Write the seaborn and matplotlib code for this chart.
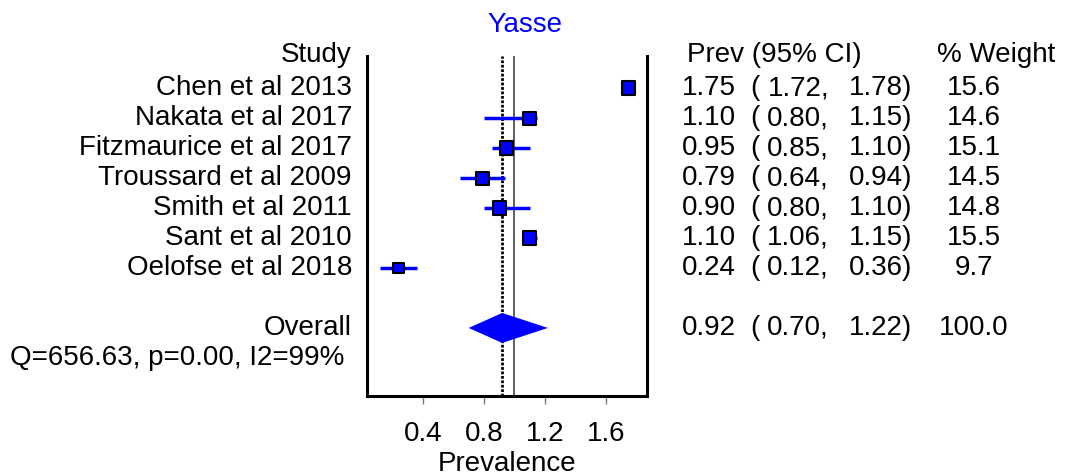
import numpy as np
import pandas as pd
import matplotlib
matplotlib.use("Agg")
import matplotlib.pyplot as plt
import matplotlib.transforms as mtransforms
import seaborn as sns

# study-level data
studies = ["Chen et al 2013", "Nakata et al 2017", "Fitzmaurice et al 2017",
           "Troussard et al 2009", "Smith et al 2011", "Sant et al 2010",
           "Oelofse et al 2018"]
prev = [1.75, 1.10, 0.95, 0.79, 0.90, 1.10, 0.24]
ci_low = [1.72, 0.80, 0.85, 0.64, 0.80, 1.06, 0.12]
ci_high = [1.78, 1.15, 1.10, 0.94, 1.10, 1.15, 0.36]
weight = [15.6, 14.6, 15.1, 14.5, 14.8, 15.5, 9.7]

# pooled estimate
overall = 0.92
overall_low = 0.70
overall_high = 1.22
overall_weight = 100.0
het_text = "Q=656.63, p=0.00, I2=99%"
x_ticks = [0.4, 0.8, 1.2, 1.6]

df = pd.DataFrame({"study": studies, "prev": prev, "low": ci_low,
                   "high": ci_high, "weight": weight})
df["row"] = np.arange(len(df))
overall_row = len(df) + 1

sns.set_style("white")
plt.rcParams["font.family"] = ["Liberation Sans", "DejaVu Sans"]
plt.rcParams["text.color"] = "black"
plt.rcParams["axes.labelcolor"] = "black"
plt.rcParams["xtick.color"] = "black"
fs = 20

fig = plt.figure(figsize=(10.67, 4.76), dpi=100)
ax = fig.add_axes([367 / 1067, 1 - 396 / 476, 280 / 1067, 340 / 476])

# reference lines
ax.axvline(1.0, color="#444444", lw=1.2, zorder=1)
ax.axvline(overall, color="black", lw=2.0, ls=(0, (1, 0.6)), zorder=1)

# confidence intervals
ax.hlines(df["row"], df["low"], df["high"], color="blue", lw=2.5, zorder=2)

# study markers sized by weight
sns.scatterplot(data=df, x="prev", y="row", size="weight", sizes=(58, 95),
                size_norm=(9.7, 15.6), marker="s", color="blue",
                edgecolor="black", linewidth=1.5, legend=False, ax=ax, zorder=3)

# pooled diamond
ax.fill([overall_low, overall, overall_high, overall],
        [overall_row, overall_row - 0.5, overall_row, overall_row + 0.5],
        color="blue", lw=0, zorder=3)

ax.set_xlim(0.033, 1.87)
ax.set_ylim(10.27, -1.07)
ax.set_yticks([])
ax.set_ylabel("")
ax.set_xticks(x_ticks)
ax.set_xticklabels([f"{t:.1f}" for t in x_ticks], fontsize=fs)
ax.tick_params(axis="x", direction="out", length=6, width=1, color="#777777",
               labelcolor="black", pad=12, bottom=True)
ax.set_xlabel("Prevalence", fontsize=fs, labelpad=3)
for side in ["left", "right", "bottom"]:
    ax.spines[side].set_color("black")
    ax.spines[side].set_linewidth(2.2)
ax.spines["top"].set_visible(False)

trans = mtransforms.blended_transform_factory(fig.transFigure, ax.transData)
def fx(px):
    return px / 1067

# left labels
ax.text(fx(352), -1.1, "Study", transform=trans, ha="right", va="center", fontsize=fs)
for _, r in df.iterrows():
    ax.text(fx(352), r["row"], r["study"], transform=trans, ha="right",
            va="center", fontsize=fs)
ax.text(fx(352), overall_row, "Overall", transform=trans, ha="right",
        va="center", fontsize=fs)
ax.text(fx(10), overall_row + 1, het_text, transform=trans, ha="left",
        va="center", fontsize=fs)

# right-hand table
ax.text(fx(687), -1.1, "Prev (95% CI)", transform=trans, ha="left", va="center", fontsize=fs)
ax.text(fx(937), -1.1, "% Weight", transform=trans, ha="left", va="center", fontsize=fs)

def table_row(y, p, lo, hi, w):
    ax.text(fx(682), y, f"{p:.2f}", transform=trans, ha="left", va="center", fontsize=fs)
    ax.text(fx(750), y, "(", transform=trans, ha="left", va="center", fontsize=fs)
    ax.text(fx(829), y, f"{lo:.2f},", transform=trans, ha="right", va="center", fontsize=fs)
    ax.text(fx(912), y, f"{hi:.2f})", transform=trans, ha="right", va="center", fontsize=fs)
    ax.text(fx(974), y, f"{w:.1f}", transform=trans, ha="center", va="center", fontsize=fs)

for _, r in df.iterrows():
    table_row(r["row"], r["prev"], r["low"], r["high"], r["weight"])
table_row(overall_row, overall, overall_low, overall_high, overall_weight)

fig.text(fx(525), 1 - 25 / 476, "Yasse", color="blue", ha="center",
         va="center", fontsize=fs)

fig.savefig("out.png", dpi=100)
